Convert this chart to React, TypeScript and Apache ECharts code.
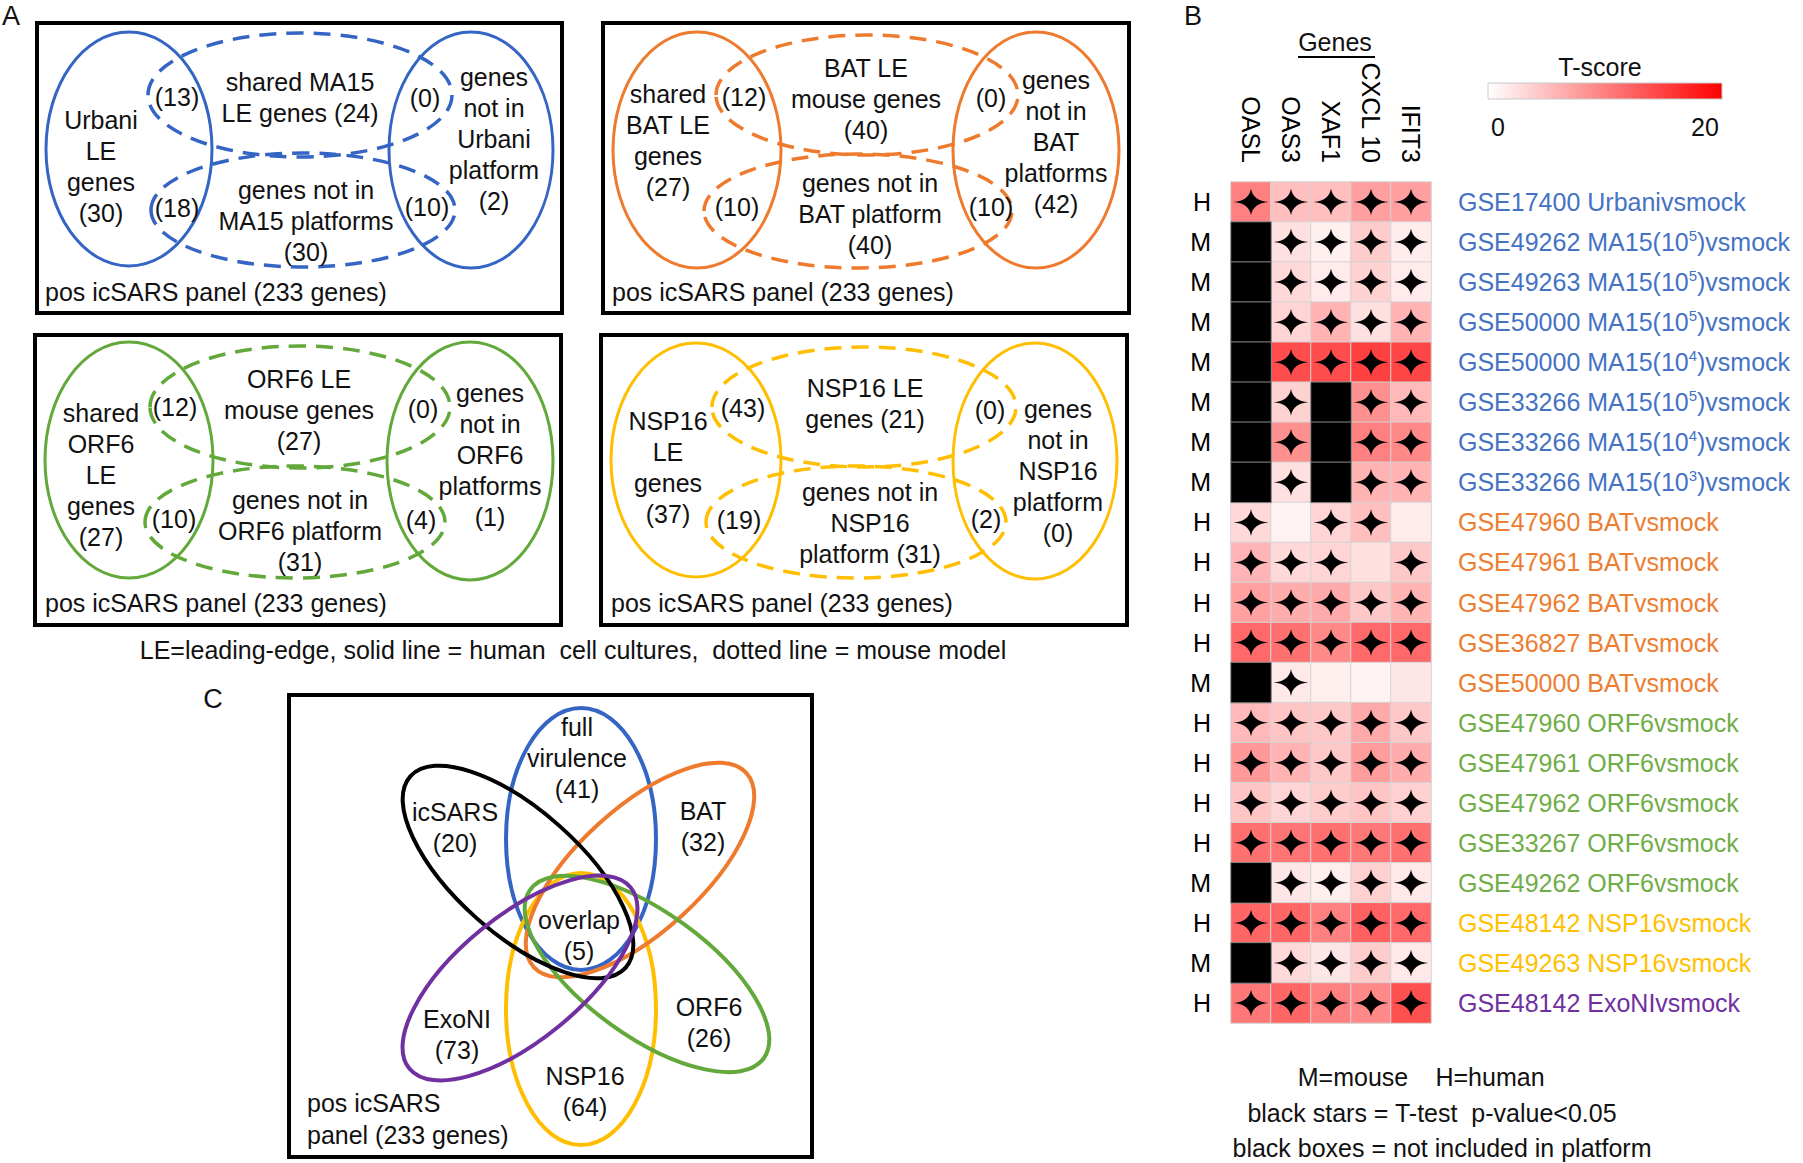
import React, { useEffect, useRef } from 'react';
import * as echarts from 'echarts';

// ---------------- DATA ----------------
const genes = ['OASL', 'OAS3', 'XAF1', 'CXCL 10', 'IFIT3'];
const hostSpecies = ['H', 'M', 'M', 'M', 'M', 'M', 'M', 'M', 'H', 'H', 'H', 'H', 'M', 'H', 'H', 'H', 'H', 'M', 'H', 'M', 'H'];
const datasetLabels = [
  'GSE17400 Urbanivsmock',
  'GSE49262 MA15(10^5)vsmock',
  'GSE49263 MA15(10^5)vsmock',
  'GSE50000 MA15(10^5)vsmock',
  'GSE50000 MA15(10^4)vsmock',
  'GSE33266 MA15(10^5)vsmock',
  'GSE33266 MA15(10^4)vsmock',
  'GSE33266 MA15(10^3)vsmock',
  'GSE47960 BATvsmock',
  'GSE47961 BATvsmock',
  'GSE47962 BATvsmock',
  'GSE36827 BATvsmock',
  'GSE50000 BATvsmock',
  'GSE47960 ORF6vsmock',
  'GSE47961 ORF6vsmock',
  'GSE47962 ORF6vsmock',
  'GSE33267 ORF6vsmock',
  'GSE49262 ORF6vsmock',
  'GSE48142 NSP16vsmock',
  'GSE49263 NSP16vsmock',
  'GSE48142 ExoNIvsmock',
];
const datasetGroup = [0, 0, 0, 0, 0, 0, 0, 0, 1, 1, 1, 1, 1, 2, 2, 2, 2, 2, 3, 3, 4];
const groupColors = ['#4472C4', '#ED7D31', '#70AD47', '#FFC000', '#7030A0'];
// null = gene not included in platform (black box)
const tScores: (number | null)[][] = [
  [10, 5, 5, 7.5, 7.5],
  [null, 2.4, 1.2, 4, 1.4],
  [null, 3, 1.6, 3.5, 1.6],
  [null, 3.4, 6, 2.4, 6],
  [null, 14, 14, 15, 14.5],
  [null, 3.5, null, 8.7, 5.5],
  [null, 8.7, null, 10, 9.3],
  [null, 2.4, null, 6, 6],
  [3, 1, 3.4, 5, 1.6],
  [5.8, 3, 3.4, 2.4, 4.3],
  [7.4, 6.5, 6.7, 4.3, 6],
  [11.8, 11.2, 9.3, 11.8, 11.8],
  [null, 1.8, 1.3, 1, 2],
  [5.5, 4.6, 4.3, 6.7, 4.3],
  [8, 6, 4.3, 7.7, 6.5],
  [4.6, 3.4, 4, 4.6, 3.7],
  [11.2, 10.9, 11.2, 10.6, 11.2],
  [null, 2, 1.3, 3.7, 1.8],
  [12, 12, 10, 12.5, 11.8],
  [null, 3, 2, 4, 1.8],
  [10.6, 12, 10, 9.3, 13.7],
];
// 1 = T-test p-value < 0.05 (black star)
const significant: number[][] = [
  [1, 1, 1, 1, 1],
  [0, 1, 1, 1, 1],
  [0, 1, 1, 1, 1],
  [0, 1, 1, 1, 1],
  [0, 1, 1, 1, 1],
  [0, 1, 0, 1, 1],
  [0, 1, 0, 1, 1],
  [0, 1, 0, 1, 1],
  [1, 0, 1, 1, 0],
  [1, 1, 1, 0, 1],
  [1, 1, 1, 1, 1],
  [1, 1, 1, 1, 1],
  [0, 1, 0, 0, 0],
  [1, 1, 1, 1, 1],
  [1, 1, 1, 1, 1],
  [1, 1, 1, 1, 1],
  [1, 1, 1, 1, 1],
  [0, 1, 1, 1, 1],
  [1, 1, 1, 1, 1],
  [0, 1, 1, 1, 1],
  [1, 1, 1, 1, 1],
];
const colorbarTicks = ['0', '20'];

// ---------------- STYLE / LAYOUT ----------------
const FONT = '"Liberation Sans", Arial, Helvetica, sans-serif';
const C_BLUE = '#3565C4';
const C_ORANGE = '#EE7A2E';
const C_GREEN = '#62A83A';
const C_YELLOW = '#FFBE00';
const C_PURPLE = '#7030A0';
const STAR = 'path://M0,-10 Q1,-1 10,0 Q1,1 0,10 Q-1,1 -10,0 Q-1,-1 0,-10 Z';

function txt(x: number, y: number, text: string, o: any = {}) {
  return {
    type: 'text',
    x,
    y,
    z: 20,
    silent: true,
    style: {
      text,
      fill: o.fill || '#111',
      fontSize: o.fontSize || 25,
      fontFamily: FONT,
      align: o.align || 'center',
      verticalAlign: 'middle',
      lineHeight: o.lh || 31,
    },
  };
}

function ell(cx: number, cy: number, rx: number, ry: number, color: string, dashed: boolean, lw = 3, rotDeg = 0) {
  return {
    type: 'ellipse',
    x: cx,
    y: cy,
    rotation: (rotDeg * Math.PI) / 180,
    z: 10,
    silent: true,
    shape: { cx: 0, cy: 0, rx, ry },
    style: { fill: 'none', stroke: color, lineWidth: lw, lineDash: dashed ? [17, 10] : null },
  };
}

function box(x: number, y: number, w: number, h: number) {
  return {
    type: 'rect',
    z: 5,
    silent: true,
    shape: { x, y, width: w, height: h },
    style: { fill: 'none', stroke: '#000', lineWidth: 4 },
  };
}

const vennA = [
  {
    color: C_BLUE,
    box: [37, 23, 525, 290],
    solid: [[129, 149, 83, 117], [471, 150, 82, 118]],
    dashed: [[300, 95, 152, 62], [303, 210, 152, 57]],
    texts: [
      [101, 166.5, 'Urbani\nLE\ngenes\n(30)'],
      [177, 97, '(13)'],
      [177, 208, '(18)'],
      [300, 97, 'shared MA15\nLE genes (24)'],
      [425, 98, '(0)'],
      [427, 207, '(10)'],
      [494, 138.5, 'genes\nnot in\nUrbani\nplatform\n(2)'],
      [306, 221, 'genes not in\nMA15 platforms\n(30)'],
    ],
    pos: [45, 292],
  },
  {
    color: C_ORANGE,
    box: [603, 23, 526, 290],
    solid: [[697, 150, 84, 118], [1036, 150, 83, 118]],
    dashed: [[867, 95, 151, 60], [858, 211, 154, 57]],
    texts: [
      [668, 140.5, 'shared\nBAT LE\ngenes\n(27)'],
      [744, 97, '(12)'],
      [737, 207, '(10)'],
      [866, 99, 'BAT LE\nmouse genes\n(40)'],
      [991, 98, '(0)'],
      [991, 207, '(10)'],
      [1056, 141.5, 'genes\nnot in\nBAT\nplatforms\n(42)'],
      [870, 214, 'genes not in\nBAT platform\n(40)'],
    ],
    pos: [612, 292],
  },
  {
    color: C_GREEN,
    box: [35, 335, 526, 290],
    solid: [[129, 460, 84, 118], [470, 461, 83, 119]],
    dashed: [[300, 407, 150, 61], [295, 522, 150, 56]],
    texts: [
      [101, 475, 'shared\nORF6\nLE\ngenes\n(27)'],
      [175, 407, '(12)'],
      [174, 519, '(10)'],
      [299, 410, 'ORF6 LE\nmouse genes\n(27)'],
      [423, 409, '(0)'],
      [421, 520, '(4)'],
      [490, 455, 'genes\nnot in\nORF6\nplatforms\n(1)'],
      [300, 531, 'genes not in\nORF6 platform\n(31)'],
    ],
    pos: [45, 603],
  },
  {
    color: C_YELLOW,
    box: [601, 335, 526, 290],
    solid: [[696, 460, 85, 117], [1035, 461, 82, 118]],
    dashed: [[864, 407, 152, 60], [856, 522, 150, 56]],
    texts: [
      [668, 467.5, 'NSP16\nLE\ngenes\n(37)'],
      [743, 408, '(43)'],
      [739, 520, '(19)'],
      [865, 403.5, 'NSP16 LE\ngenes (21)'],
      [990, 410, '(0)'],
      [986, 519, '(2)'],
      [1058, 470.5, 'genes\nnot in\nNSP16\nplatform\n(0)'],
      [870, 522.5, 'genes not in\nNSP16\nplatform (31)'],
    ],
    pos: [611, 603],
  },
];

const vennC = [
  { c: C_BLUE, e: [581, 839, 75, 131, 0] },
  { c: C_YELLOW, e: [581, 1009, 75, 136, 0] },
  { c: C_ORANGE, e: [640, 870, 144, 62, 42.4] },
  { c: C_GREEN, e: [647, 974, 144, 62, -35.8] },
  { c: '#000000', e: [518, 872, 144, 62, -41.6] },
  { c: C_PURPLE, e: [520, 978, 143, 62, 39.3] },
];
const vennCTexts: [number, number, string][] = [
  [577, 758, 'full\nvirulence\n(41)'],
  [455, 827.5, 'icSARS\n(20)'],
  [703, 826, 'BAT\n(32)'],
  [579, 935.5, 'overlap\n(5)'],
  [457, 1034, 'ExoNI\n(73)'],
  [709, 1022, 'ORF6\n(26)'],
  [585, 1091, 'NSP16\n(64)'],
];

function buildGraphics() {
  const g: any[] = [];
  g.push(txt(11, 16, 'A', { fontSize: 27 }));
  g.push(txt(1193, 16, 'B', { fontSize: 27 }));
  g.push(txt(213, 699, 'C', { fontSize: 27 }));
  vennA.forEach((p) => {
    g.push(box(p.box[0], p.box[1], p.box[2], p.box[3]));
    p.solid.forEach((s) => g.push(ell(s[0], s[1], s[2], s[3], p.color, false, 3)));
    p.dashed.forEach((s) => g.push(ell(s[0], s[1], s[2], s[3], p.color, true, 3.5)));
    p.texts.forEach((t: any) => g.push(txt(t[0], t[1], t[2])));
    g.push(txt(p.pos[0], p.pos[1], 'pos icSARS panel (233 genes)', { align: 'left' }));
  });
  g.push(txt(573, 650, 'LE=leading-edge, solid line = human  cell cultures,  dotted line = mouse model'));
  // Panel C
  g.push(box(289, 695, 523, 462));
  vennC.forEach((v) => g.push(ell(v.e[0], v.e[1], v.e[2], v.e[3], v.c, false, 4, v.e[4])));
  vennCTexts.forEach((t) => g.push(txt(t[0], t[1], t[2])));
  g.push(txt(307, 1119, 'pos icSARS\npanel (233 genes)', { align: 'left', lh: 32 }));
  // Panel B decorations
  g.push(txt(1335, 42, 'Genes'));
  g.push({ type: 'line', silent: true, shape: { x1: 1298, y1: 57, x2: 1375, y2: 57 }, style: { stroke: '#000', lineWidth: 2 } });
  g.push(txt(1600, 67, 'T-score', { fontSize: 25 }));
  g.push({
    type: 'rect',
    silent: true,
    shape: { x: 1488, y: 83, width: 234, height: 16 },
    style: {
      fill: new echarts.graphic.LinearGradient(0, 0, 1, 0, [
        { offset: 0, color: '#ffffff' },
        { offset: 1, color: '#ff0000' },
      ]),
      stroke: '#c8c8c8',
      lineWidth: 1,
    },
  });
  g.push(txt(1498, 127, colorbarTicks[0], { fontSize: 25 }));
  g.push(txt(1705, 127, colorbarTicks[1], { fontSize: 25 }));
  g.push(txt(1353, 1077, 'M=mouse'));
  g.push(txt(1490, 1077, 'H=human'));
  g.push(txt(1432, 1113, 'black stars = T-test  p-value<0.05'));
  g.push(txt(1442, 1148, 'black boxes = not included in platform'));
  return g;
}

function richLabel(i: number) {
  const g = datasetGroup[i];
  const lbl = datasetLabels[i];
  const k = lbl.indexOf('^');
  if (k < 0) return `{t${g}|${lbl}}`;
  return `{t${g}|${lbl.slice(0, k)}}{s${g}|${lbl.charAt(k + 1)}}{t${g}|${lbl.slice(k + 2)}}`;
}

function buildRich() {
  const rich: any = {};
  groupColors.forEach((c, g) => {
    rich['t' + g] = { color: c, fontSize: 25, fontFamily: FONT, lineHeight: 28 };
    rich['s' + g] = { color: c, fontSize: 15, fontFamily: FONT, lineHeight: 22, verticalAlign: 'top' };
  });
  return rich;
}

export default function App() {
  const ref = useRef<HTMLDivElement>(null);
  useEffect(() => {
    if (!ref.current) return;
    const chart = echarts.init(ref.current, undefined, { renderer: 'svg' });
    const rowIds = datasetLabels.map((_, i) => String(i));
    const heatData: any[] = [];
    const missingData: any[] = [];
    const starData: any[] = [];
    tScores.forEach((row, r) => {
      row.forEach((v, c) => {
        if (v === null) missingData.push([c, r, 0]);
        else heatData.push([c, r, v]);
        if (significant[r][c]) starData.push([c, r]);
      });
    });
    const noLine = { show: false };
    chart.setOption({
      animation: false,
      backgroundColor: '#ffffff',
      textStyle: { fontFamily: FONT },
      grid: { left: 1231, top: 182, width: 200, height: 841, containLabel: false },
      xAxis: {
        type: 'category',
        data: genes,
        position: 'top',
        axisLine: noLine,
        axisTick: noLine,
        splitLine: noLine,
        axisLabel: { interval: 0, rotate: 90, fontSize: 25, color: '#000', fontFamily: FONT, margin: 19 },
      },
      yAxis: [
        {
          type: 'category',
          data: rowIds,
          inverse: true,
          position: 'left',
          axisLine: noLine,
          axisTick: noLine,
          splitLine: noLine,
          axisLabel: {
            interval: 0,
            fontSize: 25,
            color: '#000',
            fontFamily: FONT,
            margin: 20,
            formatter: (_v: string, i: number) => hostSpecies[i],
          },
        },
        {
          type: 'category',
          data: rowIds,
          inverse: true,
          position: 'right',
          axisLine: noLine,
          axisTick: noLine,
          splitLine: noLine,
          axisLabel: {
            interval: 0,
            margin: 27,
            formatter: (_v: string, i: number) => richLabel(i),
            rich: buildRich(),
          },
        },
      ],
      visualMap: [
        {
          type: 'continuous',
          show: false,
          min: 0,
          max: 20,
          seriesIndex: 0,
          dimension: 2,
          inRange: { color: ['#ffffff', '#ff0000'] },
        },
        {
          type: 'continuous',
          show: false,
          min: 0,
          max: 1,
          seriesIndex: 1,
          dimension: 2,
          inRange: { color: ['#000000', '#000000'] },
        },
      ],
      series: [
        {
          type: 'heatmap',
          data: heatData,
          itemStyle: { borderColor: '#d4d4d4', borderWidth: 1 },
          emphasis: { disabled: true },
          silent: true,
        },
        {
          type: 'heatmap',
          data: missingData,
          itemStyle: { borderColor: '#8a8a8a', borderWidth: 1 },
          emphasis: { disabled: true },
          silent: true,
        },
        {
          type: 'scatter',
          data: starData,
          symbol: STAR,
          symbolSize: [35, 27],
          itemStyle: { color: '#000', opacity: 1 },
          z: 5,
          silent: true,
        },
      ],
      graphic: buildGraphics(),
    });
    return () => chart.dispose();
  }, []);
  return (
    <div
      ref={ref}
      style={{ position: 'absolute', left: 0, top: 0, width: 1803, height: 1163, background: '#fff' }}
    />
  );
}
